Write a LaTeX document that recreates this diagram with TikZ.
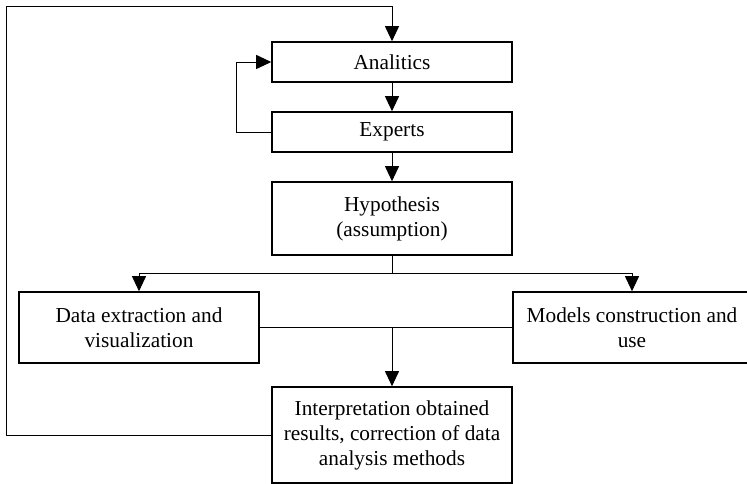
\documentclass[tikz,border=0pt]{standalone}
\usepackage{fontspec}
\setmainfont{Liberation Serif}
\usetikzlibrary{arrows.meta}

\tikzset{
  box/.style={draw, line width=1.6pt, align=center, inner sep=2pt,
              font=\fontsize{21.3}{25}\selectfont},
  conn/.style={draw, line width=0.9pt},
  arr/.style={conn, -{Triangle[length=15pt,width=14pt]}},
}

\begin{document}
\begin{tikzpicture}[x=1pt,y=-1pt]
  % page frame
  \clip (0,0) rectangle (747,484);
  \fill[white] (0,0) rectangle (747,484);

  % blocks
  \node[box, minimum width=240, minimum height=40] (ana) at (392,62) {Analitics};
  \node[box, minimum width=240, minimum height=40] (exp) at (392,132) {Experts};
  \node[box, minimum width=240, minimum height=73] (hyp) at (392,218.5) {Hypothesis\\(assumption)};
  \node[box, minimum width=240, minimum height=71] (dat) at (139,327.5) {Data extraction and\\visualization};
  \node[box, minimum width=238, minimum height=71] (mod) at (632,327.5) {Models construction and\\use};
  \node[box, minimum width=240, minimum height=96] (int) at (392,435)
    {Interpretation obtained\\results, correction of data\\analysis methods};

  % routing points
  \coordinate (split) at (392,273);
  \coordinate (fb) at (236,132);
  \coordinate (lt) at (6,6);

  % main flow
  \draw[arr] (ana) -- (exp);
  \draw[arr] (exp) -- (hyp);
  \draw[conn] (hyp.south) -- (split);
  \draw[arr] (split) -| (dat.north);
  \draw[arr] (split) -| (mod.north);
  \draw[conn] (dat.east) -- (mod.west);
  \draw[arr] (dat.east -| int.north) -- (int.north);

  % feedback from experts to analitics
  \draw[arr] (exp.west) -- (fb) |- (ana.west);

  % outer loop back to analitics
  \draw[arr] (int.west) -| (lt) -| (ana.north);
\end{tikzpicture}
\end{document}
